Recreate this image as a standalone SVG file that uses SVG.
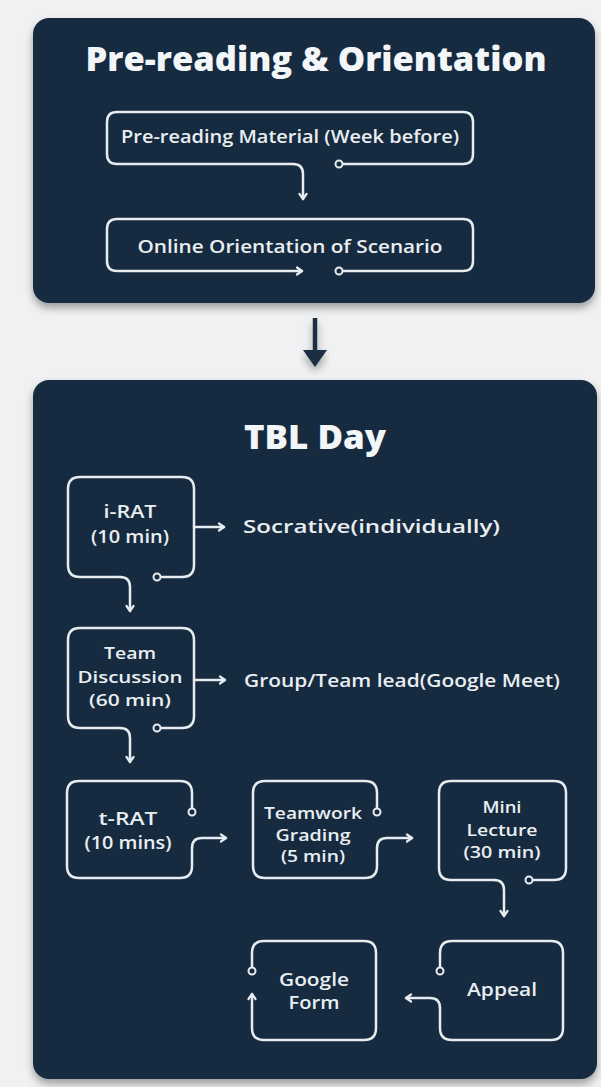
<svg xmlns="http://www.w3.org/2000/svg" width="601" height="1087" viewBox="0 0 601 1087">
<style>
.panel{fill:#162a40}
.ol{fill:none;stroke:#e6ecef;stroke-width:2.5;stroke-linecap:round;stroke-linejoin:round}
.dot{fill:#162a40;stroke:#e6ecef;stroke-width:2}
.t{fill:#e9eef1;font-family:"Open Sans","Liberation Sans",sans-serif;font-weight:600;text-anchor:middle}
.tl{fill:#e9eef1;font-family:"Open Sans","Liberation Sans",sans-serif;font-weight:600}
.h{fill:#f3f6f8;font-family:"Open Sans","Liberation Sans",sans-serif;font-weight:800;text-anchor:middle}
</style>
<defs>
<filter id="sh" x="-10%" y="-10%" width="120%" height="125%">
<feDropShadow dx="0" dy="5" stdDeviation="4" flood-color="#000" flood-opacity="0.35"/>
</filter>
<marker id="ah" viewBox="0 0 10 10" refX="8" refY="5" markerWidth="10" markerHeight="10" markerUnits="userSpaceOnUse" orient="auto">
<path d="M3,1.5 L8,5 L3,8.5" fill="none" stroke="#e6ecef" stroke-width="2.2" stroke-linecap="round" stroke-linejoin="round"/>
</marker>
</defs>
<rect width="601" height="1087" fill="#eff1f3"/>
<g id="panel-prereading">
<rect class="panel" x="33" y="18" width="562" height="285" rx="16" filter="url(#sh)"/>
<text class="h" x="316" y="71" font-size="33" textLength="461" lengthAdjust="spacingAndGlyphs">Pre-reading &amp; Orientation</text>
</g>
<g id="panel-tbl">
<rect class="panel" x="33" y="380" width="564" height="699" rx="16" filter="url(#sh)"/>
<text class="h" x="315" y="449" font-size="33" textLength="142" lengthAdjust="spacingAndGlyphs">TBL Day</text>
</g>
<g id="node-prereading-material">
<path class="ol" d="M339,164 H463 Q473,164 473,154 V122 Q473,112 463,112 H117 Q107,112 107,122 V154 Q107,164 117,164 H293"/>
<circle class="dot" cx="339" cy="164" r="3.5"/>
<text class="t" x="290" y="143" font-size="18" textLength="338" lengthAdjust="spacingAndGlyphs">Pre-reading Material (Week before)</text>
</g>
<g id="node-online-orientation">
<path class="ol" d="M339,271 H463 Q473,271 473,261 V229 Q473,219 463,219 H117 Q107,219 107,229 V261 Q107,271 117,271 H302" marker-end="url(#ah)"/>
<circle class="dot" cx="339" cy="271" r="3.5"/>
<text class="t" x="290" y="253" font-size="18" textLength="305" lengthAdjust="spacingAndGlyphs">Online Orientation of Scenario</text>
</g>
<g id="node-irat">
<path class="ol" d="M157,577 H182 Q194,577 194,565 V489 Q194,477 182,477 H80 Q68,477 68,489 V565 Q68,577 80,577 H120"/>
<circle class="dot" cx="157" cy="577" r="3.5"/>
<text class="t" x="130" y="518" font-size="18" textLength="53" lengthAdjust="spacingAndGlyphs">i-RAT</text>
<text class="t" x="130" y="543" font-size="18" textLength="78" lengthAdjust="spacingAndGlyphs">(10 min)</text>
</g>
<g id="node-socrative">
<text class="tl" x="243" y="533" font-size="18" textLength="257" lengthAdjust="spacingAndGlyphs">Socrative(individually)</text>
</g>
<g id="node-team-discussion">
<path class="ol" d="M157,728 H182 Q194,728 194,716 V640 Q194,628 182,628 H80 Q68,628 68,640 V716 Q68,728 80,728 H120"/>
<circle class="dot" cx="157" cy="728" r="3.5"/>
<text class="t" x="130" y="659" font-size="17" textLength="52" lengthAdjust="spacingAndGlyphs">Team</text>
<text class="t" x="130" y="682.5" font-size="17" textLength="105" lengthAdjust="spacingAndGlyphs">Discussion</text>
<text class="t" x="130" y="706" font-size="17" textLength="82" lengthAdjust="spacingAndGlyphs">(60 min)</text>
</g>
<g id="node-group-lead">
<text class="tl" x="244" y="687" font-size="18" textLength="316" lengthAdjust="spacingAndGlyphs">Group/Team lead(Google Meet)</text>
</g>
<g id="node-trat">
<path class="ol" d="M192,812 V793 Q192,781 180,781 H79 Q67,781 67,793 V866 Q67,878 79,878 H180 Q192,878 192,866 V848"/>
<circle class="dot" cx="192" cy="812" r="3.5"/>
<text class="t" x="128" y="825" font-size="18" textLength="59" lengthAdjust="spacingAndGlyphs">t-RAT</text>
<text class="t" x="128" y="849" font-size="18" textLength="87" lengthAdjust="spacingAndGlyphs">(10 mins)</text>
</g>
<g id="node-teamwork-grading">
<path class="ol" d="M377,812 V793 Q377,781 365,781 H265 Q253,781 253,793 V866 Q253,878 265,878 H365 Q377,878 377,866 V848"/>
<circle class="dot" cx="377" cy="812" r="3.5"/>
<text class="t" x="313" y="819" font-size="16" textLength="98" lengthAdjust="spacingAndGlyphs">Teamwork</text>
<text class="t" x="313" y="840.5" font-size="16" textLength="75" lengthAdjust="spacingAndGlyphs">Grading</text>
<text class="t" x="313" y="862" font-size="16" textLength="64" lengthAdjust="spacingAndGlyphs">(5 min)</text>
</g>
<g id="node-mini-lecture">
<path class="ol" d="M529,880 H554 Q566,880 566,868 V793 Q566,781 554,781 H451 Q439,781 439,793 V868 Q439,880 451,880 H494"/>
<circle class="dot" cx="529" cy="880" r="3.5"/>
<text class="t" x="502" y="813" font-size="16.5" textLength="39" lengthAdjust="spacingAndGlyphs">Mini</text>
<text class="t" x="502" y="835.5" font-size="16.5" textLength="71" lengthAdjust="spacingAndGlyphs">Lecture</text>
<text class="t" x="502" y="858" font-size="16.5" textLength="77" lengthAdjust="spacingAndGlyphs">(30 min)</text>
</g>
<g id="node-appeal">
<path class="ol" d="M440,971 V953 Q440,941 452,941 H551 Q563,941 563,953 V1028 Q563,1040 551,1040 H452 Q440,1040 440,1028 V1008"/>
<circle class="dot" cx="440" cy="971" r="3.5"/>
<text class="t" x="502" y="996" font-size="18" textLength="70" lengthAdjust="spacingAndGlyphs">Appeal</text>
</g>
<g id="node-google-form">
<path class="ol" d="M252,971 V953 Q252,941 264,941 H364 Q376,941 376,953 V1028 Q376,1040 364,1040 H264 Q252,1040 252,1028 V994" marker-end="url(#ah)"/>
<circle class="dot" cx="252" cy="971" r="3.5"/>
<text class="t" x="314" y="986" font-size="18" textLength="70" lengthAdjust="spacingAndGlyphs">Google</text>
<text class="t" x="314" y="1009" font-size="18" textLength="51" lengthAdjust="spacingAndGlyphs">Form</text>
</g>
<g id="connectors">
<path class="ol" d="M293,164 Q303,164 303,174 V199" marker-end="url(#ah)"/>
<g filter="url(#sh)">
<line x1="315" y1="318" x2="315" y2="353" stroke="#1b2d42" stroke-width="4.5"/>
<path d="M303,350 L327,350 L315,367 Z" fill="#1b2d42"/>
</g>
<path class="ol" d="M194,527 H224" marker-end="url(#ah)"/>
<path class="ol" d="M120,577 Q130,577 130,587 V611" marker-end="url(#ah)"/>
<path class="ol" d="M194,680 H225" marker-end="url(#ah)"/>
<path class="ol" d="M120,728 Q130,728 130,738 V762" marker-end="url(#ah)"/>
<path class="ol" d="M192,848 Q192,838 202,838 H226" marker-end="url(#ah)"/>
<path class="ol" d="M377,848 Q377,838 387,838 H412" marker-end="url(#ah)"/>
<path class="ol" d="M494,880 Q504,880 504,890 V916" marker-end="url(#ah)"/>
<path class="ol" d="M440,1008 Q440,998 430,998 H406" marker-end="url(#ah)"/>
</g>
</svg>
